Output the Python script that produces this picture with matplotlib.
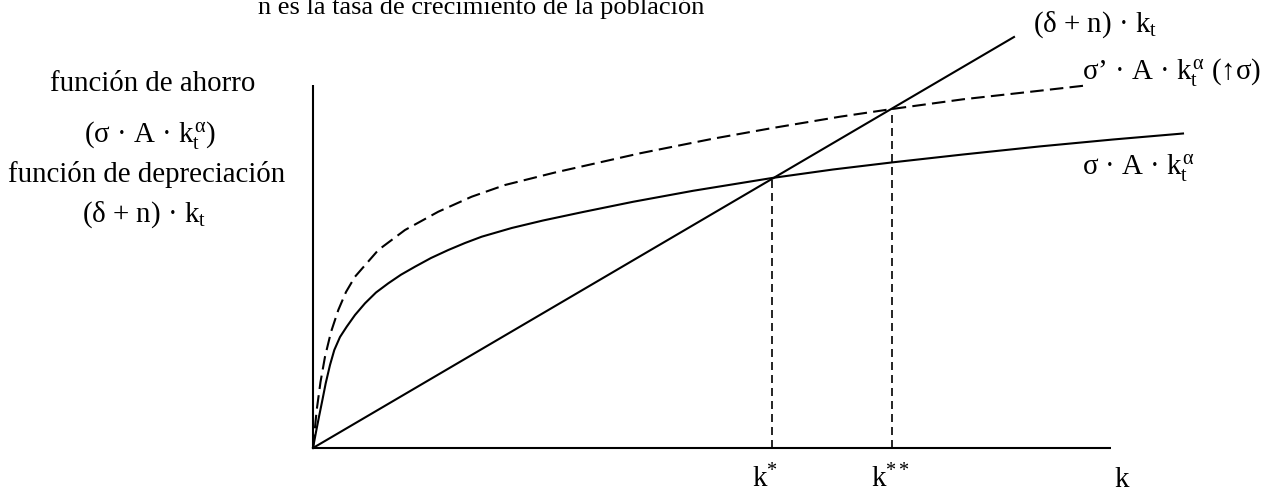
import matplotlib
matplotlib.use("Agg")
import matplotlib.pyplot as plt

plt.rcParams['font.family'] = ['Liberation Serif', 'DejaVu Serif']
plt.rcParams['mathtext.fontset'] = 'custom'
plt.rcParams['mathtext.rm'] = 'Liberation Serif'
plt.rcParams['mathtext.it'] = 'Liberation Serif'
plt.rcParams['mathtext.bf'] = 'Liberation Serif:bold'

# Savings curve sigma*A*k^alpha (capital k, height)
k_ahorro = [0.0, 0.03, 0.06, 0.095, 0.127, 0.17, 0.213, 0.27, 0.337, 0.42,
            0.52, 0.63, 0.753, 0.88, 1.02, 1.18, 1.353, 1.52, 1.687, 1.987,
            2.30, 2.70, 3.20, 3.80, 4.59, 5.20, 5.80, 6.50, 7.27, 8.00, 8.70]
ahorro = [0.0, 0.16, 0.313, 0.485, 0.647, 0.83, 0.98, 1.11, 1.213, 1.33,
          1.447, 1.555, 1.647, 1.733, 1.813, 1.90, 1.98, 2.05, 2.113, 2.20,
          2.275, 2.36, 2.462, 2.572, 2.70, 2.785, 2.857, 2.935, 3.016, 3.085,
          3.145]

# Savings curve after a rise in the savings rate, sigma'*A*k^alpha
k_ahorro_alto = [0.0, 0.037, 0.075, 0.12, 0.18, 0.253, 0.33, 0.42, 0.653,
                 0.92, 1.253, 1.587, 1.92, 2.42, 3.27, 4.0, 4.59, 5.27, 5.79,
                 6.50, 7.27, 7.70]
ahorro_alto = [0.0, 0.38, 0.66, 0.913, 1.16, 1.38, 1.56, 1.713, 1.98, 2.18,
               2.363, 2.513, 2.63, 2.755, 2.947, 3.093, 3.199, 3.313, 3.39,
               3.487, 3.573, 3.622]

# Depreciation line (delta + n)*k
k_depreciacion = [0.0, 7.01]
depreciacion = [0.0, 4.11]

# Steady states k* and k**
k_estrella = [4.59, 5.79]
y_estrella = [2.70, 3.39]

# Axis extents
k_max = 7.98
y_max = 3.63

fig = plt.figure(figsize=(12.83, 4.92), dpi=100)
ax = fig.add_axes([0, 0, 1, 1])
ax.set_xlim(-3.13, 9.70)
ax.set_ylim(-0.44, 4.48)
ax.axis('off')

lw = 1.5
ax.plot([0, k_max], [0, 0], color='black', lw=lw, solid_capstyle='butt')
ax.plot([0, 0], [0, y_max], color='black', lw=lw, solid_capstyle='butt')

ax.plot(k_ahorro, ahorro, color='black', lw=lw, solid_joinstyle='round')
ax.plot(k_ahorro_alto, ahorro_alto, color='black', lw=lw, dashes=(6.5, 3),
        dash_joinstyle='round')
ax.plot(k_depreciacion, depreciacion, color='black', lw=lw)

for kx, ky in zip(k_estrella, y_estrella):
    ax.plot([kx, kx], [0, ky], color='black', lw=1.2, dashes=(4.8, 3))

fs = 20.8
txt = dict(color='black', fontsize=fs, va='baseline')

# Caption line, partly cut by the top edge
ax.text(-0.55, 4.345, 'n es la tasa de crecimiento de la población',
        ha='left', color='black', fontsize=19, va='baseline')

# Left-hand legend
ax.text(-1.605, 3.57, 'función de ahorro', ha='center', **txt)
ax.text(-1.63, 3.06, '(σ · A · $k_t^{α}$)', ha='center', **txt)
ax.text(-1.665, 2.66, 'función de depreciación', ha='center', **txt)
ax.text(-1.69, 2.26, '(δ + n) · $k_t$', ha='center', **txt)

# Curve labels on the right
ax.text(7.20, 4.16, '(δ + n) · $k_t$', ha='left', **txt)
ax.text(7.69, 3.69, 'σ’ · A · $k_t^{α}$ (↑σ)', ha='left', **txt)
ax.text(7.69, 2.74, 'σ · A · $k_t^{α}$', ha='left', **txt)

# Horizontal axis labels
ax.text(4.39, -0.39, 'k$^{*}$', ha='left', **txt)
ax.text(5.58, -0.39, 'k$^{**}$', ha='left', **txt)
ax.text(8.01, -0.39, 'k', ha='left', **txt)

fig.savefig('out.png', dpi=100)
